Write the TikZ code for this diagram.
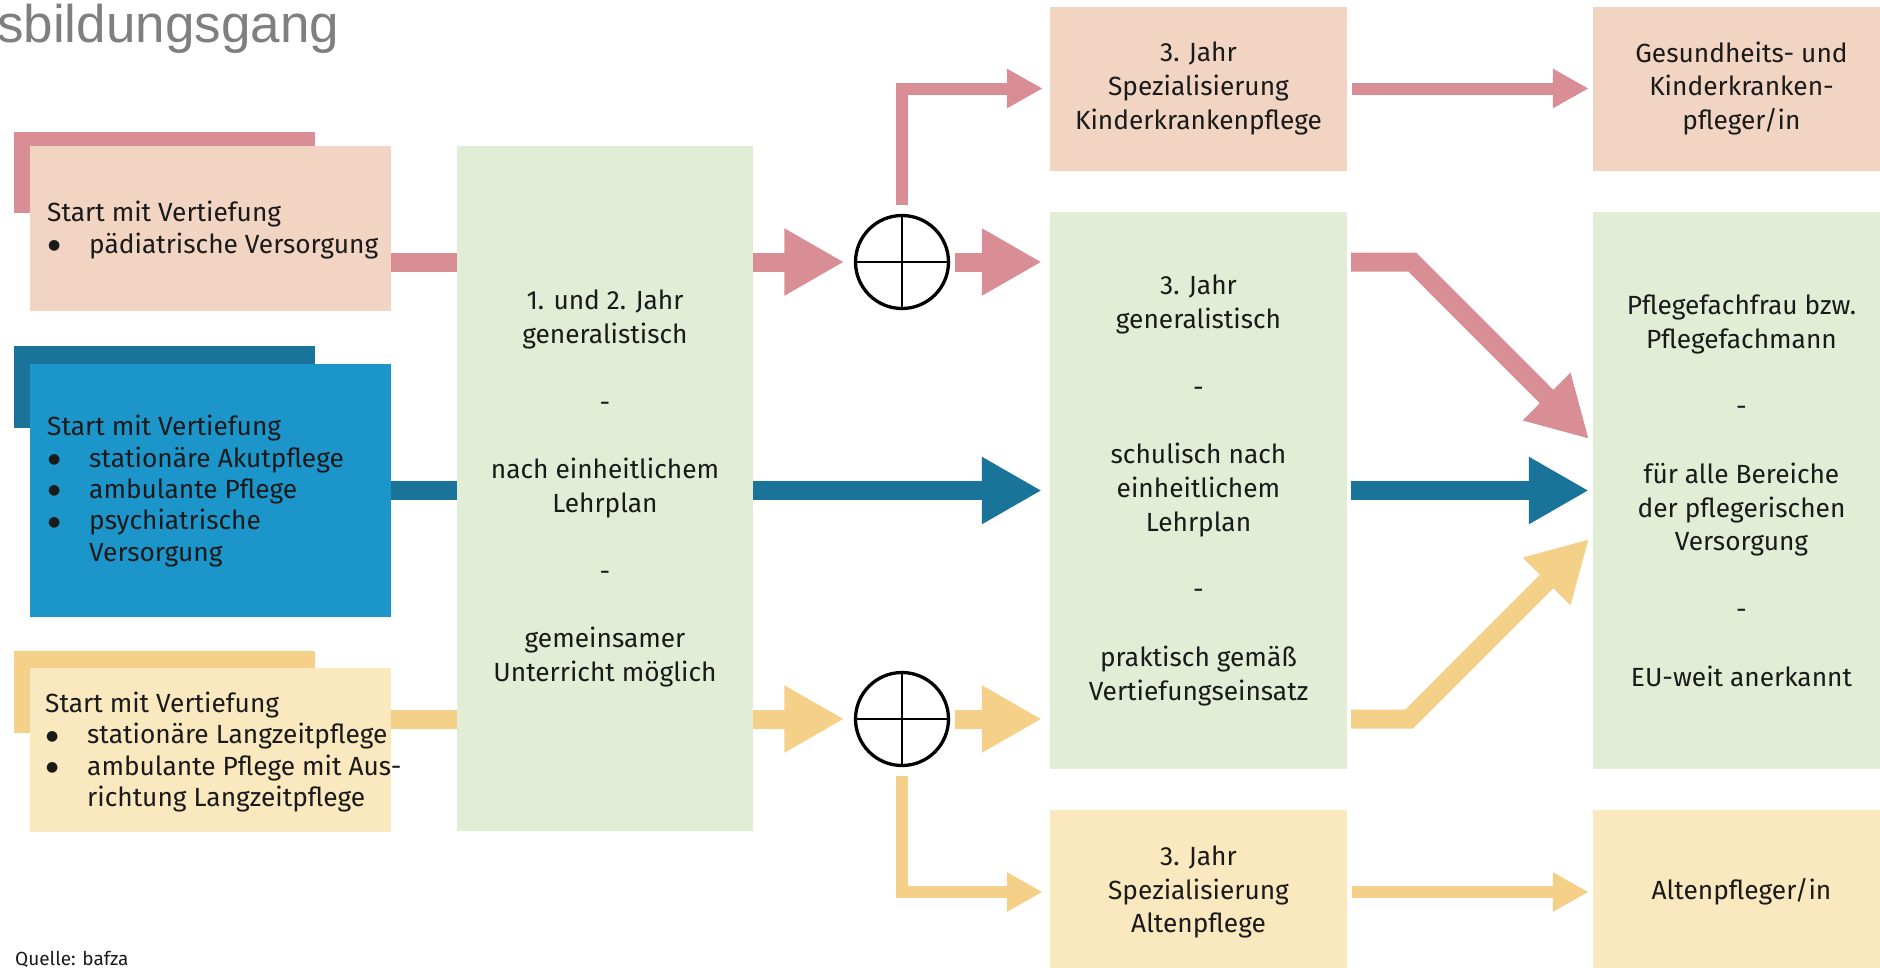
\documentclass[tikz,border=0pt]{standalone}
\usepackage{fontspec}
\setmainfont{Fira Sans}
\newfontfamily\titlefont{Liberation Sans}
\newfontfamily\symfont{DejaVu Sans}
\usetikzlibrary{arrows.meta,calc}
\definecolor{pinkbox}{HTML}{F2D4C3}
\definecolor{pinkarr}{HTML}{D98D95}
\definecolor{bluedark}{HTML}{1A7399}
\definecolor{bluebox}{HTML}{1C96CA}
\definecolor{yelarr}{HTML}{F5D089}
\definecolor{yelbox}{HTML}{FAE9BF}
\definecolor{greenbox}{HTML}{E1EED5}
\definecolor{txt}{HTML}{1A1A1A}
\definecolor{titlegray}{HTML}{7F7F7F}
\newcommand{\bul}{\makebox[42pt][l]{\hspace*{1pt}\raisebox{3.5pt}{\symfont\fontsize{14}{14}\selectfont ●}}}
\newcommand{\ind}{\hspace*{42pt}}
\begin{document}
\begin{tikzpicture}[x=1pt,y=-1pt,
  box/.style={rectangle, inner sep=0pt, draw=none},
  bodytext/.style={font=\fontsize{26.3}{33.8}\selectfont, text=txt, align=center},
  lefttext/.style={font=\fontsize{26.3}{31.3}\selectfont, text=txt, align=left, inner sep=0pt, anchor=west},
  bigarrow/.style={line width=19pt, -{Triangle[length=60pt,width=63pt]}},
  bar/.style={line width=19pt},
  thinarrow/.style={line width=12pt, -{Triangle[length=36pt,width=37pt]}},
  circ/.style={circle, draw=black, line width=3.3pt, minimum size=93pt, inner sep=0pt, fill=white},
]
\useasboundingbox (0,0) rectangle (1880,967);

% title and source
\node[anchor=base west, inner sep=0pt, font=\titlefont\fontsize{53}{60}\selectfont, text=titlegray] (title) at (-3,42) {sbildungsgang};
\node[anchor=base west, inner sep=0pt, font=\fontsize{19}{22}\selectfont, text=txt] (src) at (15,965) {Quelle: bafza};

% left start boxes
\node[box, fill=pinkarr, minimum width=301pt, minimum height=81pt] (pS) at (164.5,172.5) {};
\node[box, fill=pinkbox, minimum width=361pt, minimum height=165pt] (pF) at (210.5,228.5) {};
\node[lefttext] (pT) at (47,230) {Start mit Vertiefung\\ \bul pädiatrische Versorgung};

\node[box, fill=bluedark, minimum width=301pt, minimum height=82pt] (bS) at (164.5,387) {};
\node[box, fill=bluebox, minimum width=361pt, minimum height=253pt] (bF) at (210.5,490.5) {};
\node[lefttext] (bT) at (47,491) {Start mit Vertiefung\\ \bul stationäre Akutpflege\\ \bul ambulante Pflege\\ \bul psychiatrische\\ \ind Versorgung};

\node[box, fill=yelarr, minimum width=301pt, minimum height=82pt] (yS) at (164.5,692) {};
\node[box, fill=yelbox, minimum width=361pt, minimum height=164pt] (yF) at (210.5,750) {};
\node[lefttext] (yT) at (45,752) {Start mit Vertiefung\\ \bul stationäre Langzeitpflege\\ \bul ambulante Pflege mit Aus-\\ \ind richtung Langzeitpflege};

% middle
\node[box, fill=greenbox, minimum width=296pt, minimum height=685pt, bodytext] (g1) at (605,488.5)
  {1. und 2. Jahr\\ generalistisch\\[33.8pt] -\\[33.8pt] nach einheitlichem\\ Lehrplan\\[33.8pt] -\\[33.8pt] gemeinsamer\\ Unterricht möglich};

\node[circ] (c1) at (902,262) {};
\node[circ] (c2) at (902,719) {};
\draw[line width=1.6pt] (c1.north) -- (c1.south) (c1.west) -- (c1.east);
\draw[line width=1.6pt] (c2.north) -- (c2.south) (c2.west) -- (c2.east);

\node[box, fill=greenbox, minimum width=297pt, minimum height=557pt, bodytext] (g2) at (1198.5,490.5)
  {3. Jahr\\ generalistisch\\[33.8pt] -\\[33.8pt] schulisch nach\\ einheitlichem\\ Lehrplan\\[33.8pt] -\\[33.8pt] praktisch gemäß\\ Vertiefungseinsatz};
\node[box, fill=pinkbox, minimum width=297pt, minimum height=164pt, bodytext] (t1) at (1198.5,88.5)
  {3. Jahr\\ Spezialisierung\\ Kinderkrankenpflege};
\node[box, fill=yelbox, minimum width=297pt, minimum height=164pt, bodytext] (a1) at (1198.5,892)
  {3. Jahr\\ Spezialisierung\\ Altenpflege};

% right column
\node[box, fill=pinkbox, minimum width=297pt, minimum height=164pt, bodytext] (r1) at (1741.5,88.5)
  {Gesundheits- und\\ Kinderkranken-\\ pfleger/in};
\node[box, fill=greenbox, minimum width=297pt, minimum height=557pt, bodytext] (r2) at (1741.5,490.5)
  {Pflegefachfrau bzw.\\ Pflegefachmann\\[33.8pt] -\\[33.8pt] für alle Bereiche\\ der pflegerischen\\ Versorgung\\[33.8pt] -\\[33.8pt] EU-weit anerkannt};
\node[box, fill=yelbox, minimum width=297pt, minimum height=164pt, bodytext] (r3) at (1741.5,892)
  {Altenpfleger/in};

% pink row
\draw[bar, pinkarr] (pF.east |- c1) -- (g1.west |- c1);
\draw[bigarrow, pinkarr, shorten >=9.6pt] (g1.east |- c1) -- (c1.west);
\draw[bigarrow, pinkarr, shorten <=5pt, shorten >=8pt] (c1.east) -- (g2.west |- c1);
\draw[thinarrow, pinkarr, shorten <=9pt, shorten >=7pt] (c1.north) |- (t1.west);
\draw[thinarrow, pinkarr, shorten <=5pt, shorten >=4pt] (t1.east) -- (r1.west);
\coordinate (pTip) at (1589,439);
\draw[bigarrow, pinkarr, shorten <=4pt] (g2.east |- c1) -- ++(65,0) -- (pTip);

% blue row
\draw[bar, bluedark] (bF.east) -- (bF.east -| g1.west);
\draw[bigarrow, bluedark, shorten >=8pt] (g1.east |- bF.east) -- (g2.west |- bF.east);
\draw[bigarrow, bluedark, shorten <=4pt, shorten >=4pt] (g2.east |- bF.east) -- (r2.west |- bF.east);

% yellow row
\draw[bar, yelarr] (yF.east |- c2) -- (g1.west |- c2);
\draw[bigarrow, yelarr, shorten >=9.6pt] (g1.east |- c2) -- (c2.west);
\draw[bigarrow, yelarr, shorten <=5pt, shorten >=8pt] (c2.east) -- (g2.west |- c2);
\draw[thinarrow, yelarr, shorten <=9pt, shorten >=7pt] (c2.south) |- (a1.west);
\draw[thinarrow, yelarr, shorten <=5pt, shorten >=4pt] (a1.east) -- (r3.west);
\coordinate (yTip) at (1589,539);
\draw[bigarrow, yelarr, shorten <=4pt] (g2.east |- c2) -- ++(62,0) -- (yTip);
\end{tikzpicture}
\end{document}
